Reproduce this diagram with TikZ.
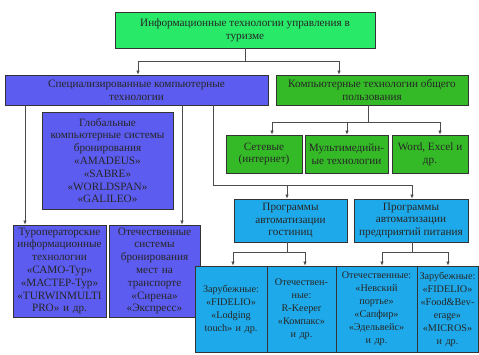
\documentclass[tikz,border=0pt]{standalone}
\usepackage{fontspec}
\setmainfont{Liberation Serif}
\usetikzlibrary{arrows.meta}
\definecolor{topgreen}{RGB}{40,234,104}
\definecolor{specblue}{RGB}{92,92,240}
\definecolor{gengreen}{RGB}{52,186,38}
\definecolor{progcyan}{RGB}{30,170,234}
\tikzset{
  box/.style={draw=black!80, line width=0.8pt, align=center, inner sep=0.5pt,
    text=black!85, font=\fontsize{11.2}{12.8}\selectfont},
  topbox/.style={box, fill=topgreen},
  specbox/.style={box, fill=specblue},
  genbox/.style={box, fill=gengreen},
  progbox/.style={box, fill=progcyan},
  soft/.style={progbox, minimum height=86, font=\fontsize{10.2}{13}\selectfont},
  link/.style={draw=black!70, line width=0.7pt},
  arr/.style={link, -{Latex[length=4pt,width=3.5pt]}}
}
\begin{document}
\begin{tikzpicture}[x=1pt,y=-1pt]
  \useasboundingbox (0,0) rectangle (479,354);

  \node[topbox, minimum width=260, minimum height=36] (top) at (245,30)
    {Информационные технологии управления в\\туризме};

  \node[specbox, minimum width=263, minimum height=30] (spec) at (136.5,90)
    {Специализированные компьютерные\\технологии};
  \node[genbox, minimum width=192, minimum height=30] (gen) at (372,90)
    {Компьютерные технологии общего\\пользования};

  \node[specbox, minimum width=131, minimum height=97] (glob) at (107.5,160.5)
    {Глобальные\\компьютерные системы\\бронирования\\«AMADEUS»\\«SABRE»\\«WORLDSPAN»\\«GALILEO»};

  \node[specbox, minimum width=93, minimum height=92, text width=92] (tur) at (59.5,271)
    {Туроператорские\\информационные\\технологии\\«САМО-Тур»\\«МАСТЕР-Тур»\\«TURWINMULTI\\PRO» и др.};
  \node[specbox, minimum width=91, minimum height=92, text width=90] (rail) at (154.5,271)
    {Отечественные\\системы\\бронирования\\мест на\\транспорте\\«Сирена»\\«Экспресс»};

  \node[genbox, minimum width=76, minimum height=38] (net) at (264,154)
    {Сетевые\\(интернет)};
  \node[genbox, minimum width=83, minimum height=38] (media) at (346.5,154)
    {Мультимедийн-\\ые технологии};
  \node[genbox, minimum width=76, minimum height=38] (office) at (430,154)
    {Word, Excel и\\др.};

  \node[progbox, minimum width=113, minimum height=43] (hotel) at (290.5,220.5)
    {Программы\\автоматизации\\гостиниц};
  \node[progbox, minimum width=114, minimum height=43] (food) at (411,220.5)
    {Программы\\автоматизации\\предприятий питания};

  \node[soft, minimum width=72, text width=71] (hforeign) at (231,309)
    {Зарубежные:\\«FIDELIO»\\«Lodging\\touch» и др.};
  \node[soft, minimum width=69, text width=68] (hlocal) at (301.5,309)
    {Отечествен-\\ные:\\R-Keeper\\«Компакс»\\и др.};
  \node[soft, minimum width=81, text width=80] (flocal) at (376.5,309)
    {Отечественные:\\«Невский\\портье»\\«Сапфир»\\«Эдельвейс»\\и др.};
  \node[soft, minimum width=61, text width=60] (fforeign) at (447.5,309)
    {Зарубежные:\\«FIDELIO»\\«Food\&Bev-\\erage»\\«MICROS»\\и др.};

  \coordinate (j1) at (138,61);
  \coordinate (j2) at (339,61);
  \draw[link] (top.south) -- (top.south |- j1);
  \draw[link] (j1) -- (j2);
  \draw[arr] (j1) -- (j1 |- spec.north);
  \draw[arr] (j2) -- (j2 |- gen.north);

  \coordinate (s1) at (25,105);
  \coordinate (s2) at (182,105);
  \coordinate (s3) at (213,105);
  \coordinate (p1) at (287,185);
  \coordinate (p2) at (412,185);
  \draw[arr] (s1) -- (s1 |- tur.north);
  \draw[arr] (s2) -- (s2 |- rail.north);
  \draw[link] (s3) |- (p2);
  \draw[arr] (p1) -- (p1 |- hotel.north);
  \draw[arr] (p2) -- (p2 |- food.north);

  \coordinate (g0) at (368,122);
  \coordinate (g1) at (272,122);
  \coordinate (g2) at (347,122);
  \coordinate (g3) at (440,122);
  \draw[link] (g0 |- gen.south) -- (g0);
  \draw[link] (g1) -- (g3);
  \draw[arr] (g1) -- (g1 |- net.north);
  \draw[arr] (g2) -- (g2 |- media.north);
  \draw[arr] (g3) -- (g3 |- office.north);

  \coordinate (h1) at (233,252);
  \coordinate (h2) at (305,252);
  \draw[link] (p1 |- hotel.south) -- (p1 |- h1);
  \draw[link] (h1) -- (h2);
  \draw[arr] (h1) -- (h1 |- hforeign.north);
  \draw[arr] (h2) -- (h2 |- hlocal.north);

  \coordinate (f1) at (382,252);
  \coordinate (f2) at (448,252);
  \draw[link] (p2 |- food.south) -- (p2 |- f1);
  \draw[link] (f1) -- (f2);
  \draw[arr] (f1) -- (f1 |- flocal.north);
  \draw[arr] (f2) -- (f2 |- fforeign.north);
\end{tikzpicture}
\end{document}
